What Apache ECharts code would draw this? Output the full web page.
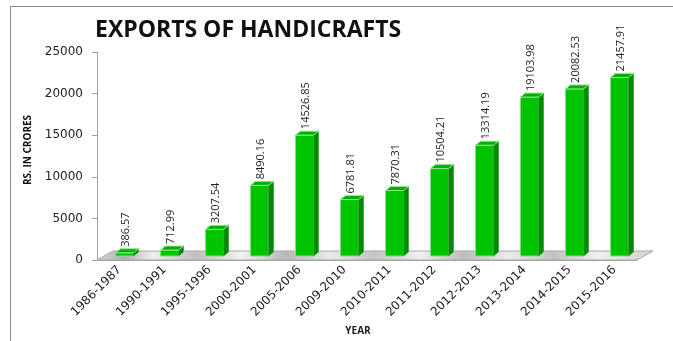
<!DOCTYPE html>
<html><head><meta charset="utf-8">
<script src="https://cdn.jsdelivr.net/npm/echarts@6/dist/echarts.min.js"></script>
<style>html,body{margin:0;padding:0;background:#fff}#c{width:673px;height:341px}</style>
</head><body><div id="c"></div>
<script>
const categories = ["1986-1987","1990-1991","1995-1996","2000-2001","2005-2006","2009-2010","2010-2011","2011-2012","2012-2013","2013-2014","2014-2015","2015-2016"];
const values = [386.57, 712.99, 3207.54, 8490.16, 14526.85, 6781.81, 7870.31, 10504.21, 13314.19, 19103.98, 20082.53, 21457.91];
const valueLabels = ["386.57","712.99","3207.54","8490.16","14526.85","6781.81","7870.31","10504.21","13314.19","19103.98","20082.53","21457.91"];
const yMin = 0, yMax = 25000, yStep = 5000;

const chart = echarts.init(document.getElementById('c'));
const FONT = '"Open Sans", sans-serif';

function renderFloor(params, api) {
  const cs = params.coordSys;
  const x0 = cs.x, x1 = cs.x + cs.width, y0 = cs.y + cs.height;
  const dx = 16, dy = -9;
  return {
    type: 'group',
    children: [{
      type: 'polygon',
      shape: { points: [[x0, y0], [x1, y0], [x1 + dx, y0 + dy], [x0 + dx, y0 + dy]] },
      style: {
        fill: new echarts.graphic.LinearGradient(0, 0, 1, 0, [
          {offset: 0, color: '#d8d8d8'}, {offset: 0.05, color: '#b0b0b0'}, {offset: 0.1, color: '#eeeeee'},
          {offset: 0.18, color: '#c0c0c0'}, {offset: 0.26, color: '#f2f2f2'}, {offset: 0.34, color: '#b8b8b8'},
          {offset: 0.42, color: '#eaeaea'}, {offset: 0.5, color: '#c4c4c4'}, {offset: 0.58, color: '#f0f0f0'},
          {offset: 0.66, color: '#bcbcbc'}, {offset: 0.74, color: '#ececec'}, {offset: 0.82, color: '#c2c2c2'},
          {offset: 0.9, color: '#f0f0f0'}, {offset: 1, color: '#d0d0d0'}
        ]),
        stroke: '#a8a8a8', lineWidth: 1
      }
    }]
  };
}

function renderBar(params, api) {
  const i = api.value(0), v = api.value(1);
  const top = api.coord([i, v]);
  const base = api.coord([i, 0]);
  const bw = api.size([1, 0])[0];
  const fw = bw * 0.4;
  const left = base[0] - 4, right = left + fw;
  const lift = 4;
  const yTop = top[1] - lift, yBot = base[1] - lift;
  const sx = 5, sy = -4;
  return {
    type: 'group',
    children: [
      { type: 'rect', shape: { x: left, y: yTop, width: fw, height: yBot - yTop },
        style: { fill: '#00c400', stroke: '#7fe07f', lineWidth: 1 } },
      { type: 'polygon', shape: { points: [[right, yBot], [right + sx, yBot + sy], [right + sx, yTop + sy], [right, yTop]] },
        style: { fill: '#008a00', stroke: '#3aa03a', lineWidth: 0.8 } },
      { type: 'polygon', shape: { points: [[left, yTop], [left + sx, yTop + sy], [right + sx, yTop + sy], [right, yTop]] },
        style: { fill: '#00b000', stroke: '#8ee88e', lineWidth: 1 } },
      { type: 'text', x: left + fw / 2 + 1, y: yTop + sy - 2, rotation: Math.PI / 2,
        style: { text: valueLabels[i], fill: '#222', font: '11px ' + FONT, align: 'left', verticalAlign: 'middle' } }
    ]
  };
}

chart.setOption({
  animation: false,
  title: {
    text: 'EXPORTS OF HANDICRAFTS', left: 90, top: 14,
    textStyle: { fontFamily: FONT, fontWeight: 'bold', fontSize: 23, color: '#111' }
  },
  graphic: [{
    type: 'polyline', shape: { points: [[10.5, 345], [10.5, 6.5], [680, 6.5]] },
    style: { stroke: '#8a8a8a', lineWidth: 1, fill: null }
  }],
  grid: { left: 97, right: 36, top: 52, bottom: 79 },
  xAxis: {
    type: 'category', data: categories,
    name: 'YEAR', nameLocation: 'middle', nameGap: 66,
    nameTextStyle: { fontFamily: FONT, fontWeight: 'bold', fontSize: 10, color: '#222', padding: [0, 18, 0, 0] },
    axisLine: { lineStyle: { color: '#a0a0a0' } },
    axisTick: { length: 6, lineStyle: { color: '#a0a0a0' } },
    axisLabel: { rotate: 45, margin: 8, fontFamily: 'DejaVu Sans', fontSize: 12, color: '#222' }
  },
  yAxis: {
    type: 'value', min: yMin, max: yMax, interval: yStep,
    name: 'RS. IN CRORES', nameLocation: 'middle', nameGap: 64,
    nameTextStyle: { fontFamily: FONT, fontWeight: 'bold', fontSize: 10, color: '#111', padding: [0, 0, 0, 12] },
    axisLine: { show: true, lineStyle: { color: '#a0a0a0' } },
    axisTick: { show: true, length: 5, lineStyle: { color: '#a0a0a0' } },
    splitLine: { show: false },
    axisLabel: { margin: 14, fontFamily: 'DejaVu Sans', fontSize: 12, color: '#222', formatter: v => String(v) }
  },
  series: [
    { type: 'custom', z: 1, renderItem: renderFloor, data: [[0, 0]], silent: true },
    { type: 'custom', z: 2, renderItem: renderBar, data: values.map((v, i) => [i, v]) }
  ]
});
</script></body></html>
